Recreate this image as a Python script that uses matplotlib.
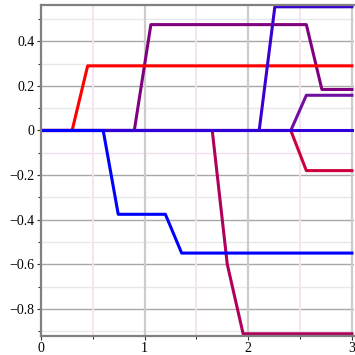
import matplotlib
matplotlib.use("Agg")
import matplotlib.pyplot as plt
from matplotlib.ticker import MultipleLocator, FuncFormatter

# Series data (x breakpoints, y values)
purple1_x = [0, 0.90, 1.06, 2.56, 2.71, 3]
purple1_y = [0, 0, 0.475, 0.475, 0.184, 0.184]
red_x = [0, 0.30, 0.45, 3]
red_y = [0, 0, 0.29, 0.29]
magenta_x = [0, 1.652, 1.797, 1.95, 3]
magenta_y = [0, 0, -0.60, -0.912, -0.912]
crimson_x = [0, 2.41, 2.56, 3]
crimson_y = [0, 0, -0.18, -0.18]
purple2_x = [0, 2.41, 2.56, 3]
purple2_y = [0, 0, 0.158, 0.158]
violet_x = [0, 2.105, 2.256, 3]
violet_y = [0, 0, 0.555, 0.555]
zero_x = [0, 3]
zero_y = [0, 0]
blue_x = [0, 0.60, 0.745, 1.20, 1.357, 3]
blue_y = [0, 0, -0.376, -0.376, -0.55, -0.55]

x_ticks = [0, 1, 2, 3]
y_ticks = [-0.8, -0.6, -0.4, -0.2, 0, 0.2, 0.4]

fig = plt.figure(figsize=(3.55, 3.55), dpi=100)
W = H = 355.0
ax = fig.add_axes([40.5 / W, (H - 336) / H, 313 / W, 331 / H])
ax.set_xlim(-0.005, 3.015)
ax.set_ylim(-0.922, 0.563)

# grid
for yv in [i / 10 for i in range(-9, 6)]:
    if abs(round(yv * 10) % 2) == 0:
        ax.axhline(yv, color="#a8a8a8", lw=1.0, zorder=0)
    else:
        c = "#f3e0ee" if abs(yv + 0.1) < 1e-9 else "#e8e8e8"
        ax.axhline(yv, color=c, lw=1.0, zorder=0)
for xv in [0.5, 1.5, 2.5]:
    ax.axvline(xv, color="#f3e3f0", lw=1.3, zorder=0)
for xv in [1, 2, 3]:
    ax.axvline(xv, color="#cccccc", lw=1.6, zorder=0)

lw = 2.2
ax.plot(purple1_x, purple1_y, color="#800080", lw=lw, zorder=2)
ax.plot(red_x, red_y, color="#ff0000", lw=lw, zorder=2)
ax.plot(magenta_x, magenta_y, color="#b0005c", lw=lw, zorder=2)
ax.plot(crimson_x, crimson_y, color="#cc003c", lw=lw, zorder=2)
ax.plot(purple2_x, purple2_y, color="#7010a0", lw=lw, zorder=2)
ax.plot(violet_x, violet_y, color="#3a00d0", lw=lw, zorder=2)
ax.plot(zero_x, zero_y, color="#3000d8", lw=lw, zorder=2)
ax.plot(blue_x, blue_y, color="#0000ff", lw=lw, zorder=2)

for s in ["left", "bottom", "top"]:
    ax.spines[s].set_color("#808080")
    ax.spines[s].set_linewidth(1.6)
ax.spines["right"].set_visible(False)

ax.xaxis.set_major_locator(MultipleLocator(1))
ax.xaxis.set_minor_locator(MultipleLocator(0.5))
ax.yaxis.set_major_locator(MultipleLocator(0.2))
ax.yaxis.set_minor_locator(MultipleLocator(0.1))
ax.set_xticks(x_ticks)
ax.set_yticks(y_ticks)


def yfmt(v, pos):
    if abs(v) < 1e-9:
        return "0"
    s = "%.1f" % abs(v)
    return ("\u2212" + s) if v < 0 else s


ax.yaxis.set_major_formatter(FuncFormatter(yfmt))
ax.tick_params(axis="both", which="major", length=3, width=0.8, color="#333333",
               labelsize=10, pad=1.5)
ax.tick_params(axis="both", which="minor", length=2, width=0.8, color="#333333")
for lab in ax.get_xticklabels() + ax.get_yticklabels():
    lab.set_fontfamily("Liberation Serif")

fig.savefig("out.png", dpi=100)
